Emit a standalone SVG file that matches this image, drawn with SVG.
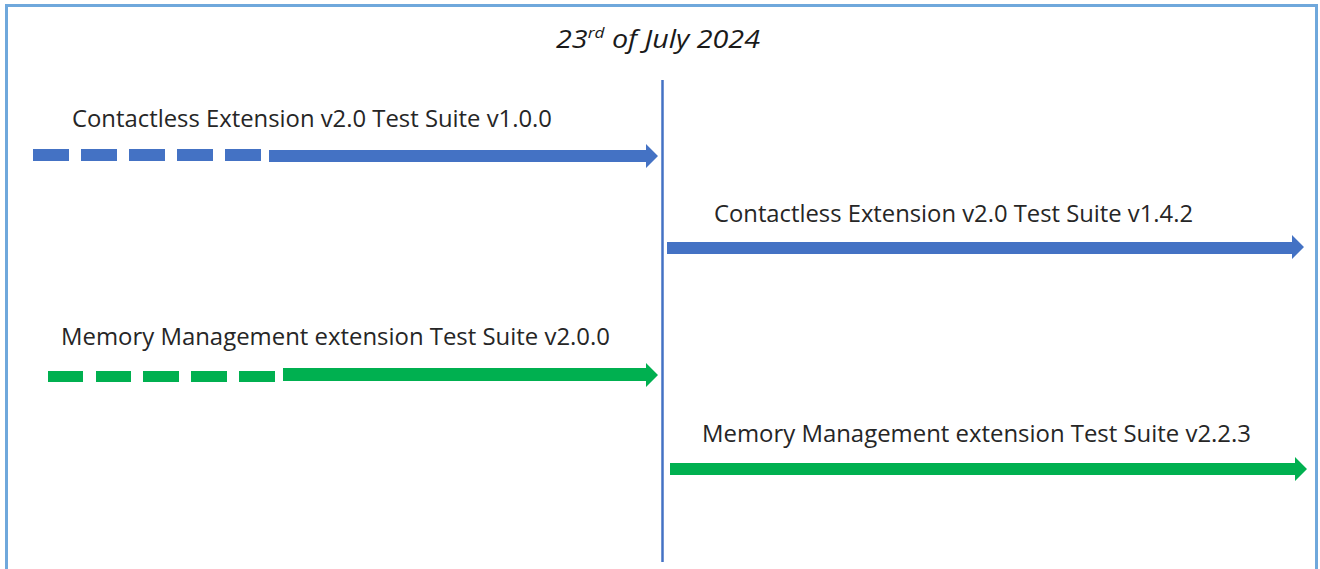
<svg xmlns="http://www.w3.org/2000/svg" width="1320" height="569" viewBox="0 0 1320 569">
<style>
.lbl{font-family:"Open Sans","Liberation Sans",sans-serif;font-size:23px;fill:#262626}
.title{font-family:"Open Sans","Liberation Sans",sans-serif;font-size:25px;font-style:italic;fill:#1a1a1a}
.blue{fill:#4472c4}
.green{fill:#00b050}
</style>
<rect x="6.5" y="5.5" width="1310" height="580" fill="#fff" stroke="#6fa8dc" stroke-width="3"/>
<g id="title"><text class="title" x="556" y="48" textLength="204" lengthAdjust="spacingAndGlyphs">23<tspan font-size="15" dy="-10">rd</tspan><tspan dy="10"> of July 2024</tspan></text></g>
<g id="connectors">
<line x1="662.5" y1="80" x2="662.5" y2="562" stroke="#4472c4" stroke-width="2.5"/>
</g>
<g id="arrow1">
<g class="blue">
<rect x="33" y="149" width="36" height="12"/>
<rect x="81" y="149" width="36" height="12"/>
<rect x="129" y="149" width="36" height="12"/>
<rect x="177" y="149" width="36" height="12"/>
<rect x="225" y="149" width="36" height="12"/>
<polygon points="269,150 646,150 646,144 658,156 646,168 646,162 269,162"/>
</g>
<text class="lbl" x="72" y="127" textLength="480" lengthAdjust="spacingAndGlyphs">Contactless Extension v2.0 Test Suite v1.0.0</text>
</g>
<g id="arrow2">
<polygon class="blue" points="667,242 1292,242 1292,235 1304,247 1292,259 1292,254 667,254"/>
<text class="lbl" x="714" y="222" textLength="479" lengthAdjust="spacingAndGlyphs">Contactless Extension v2.0 Test Suite v1.4.2</text>
</g>
<g id="arrow3">
<g class="green">
<rect x="48" y="371" width="35" height="11"/>
<rect x="96" y="371" width="35" height="11"/>
<rect x="143" y="371" width="36" height="11"/>
<rect x="191" y="371" width="36" height="11"/>
<rect x="239" y="371" width="36" height="11"/>
<polygon points="283,368 646,368 646,363 658,375 646,387 646,381 283,381"/>
</g>
<text class="lbl" x="61" y="345" textLength="549" lengthAdjust="spacingAndGlyphs">Memory Management extension Test Suite v2.0.0</text>
</g>
<g id="arrow4">
<polygon class="green" points="670,463 1295,463 1295,457 1307,469 1295,481 1295,475 670,475"/>
<text class="lbl" x="702" y="442" textLength="549" lengthAdjust="spacingAndGlyphs">Memory Management extension Test Suite v2.2.3</text>
</g>
</svg>
